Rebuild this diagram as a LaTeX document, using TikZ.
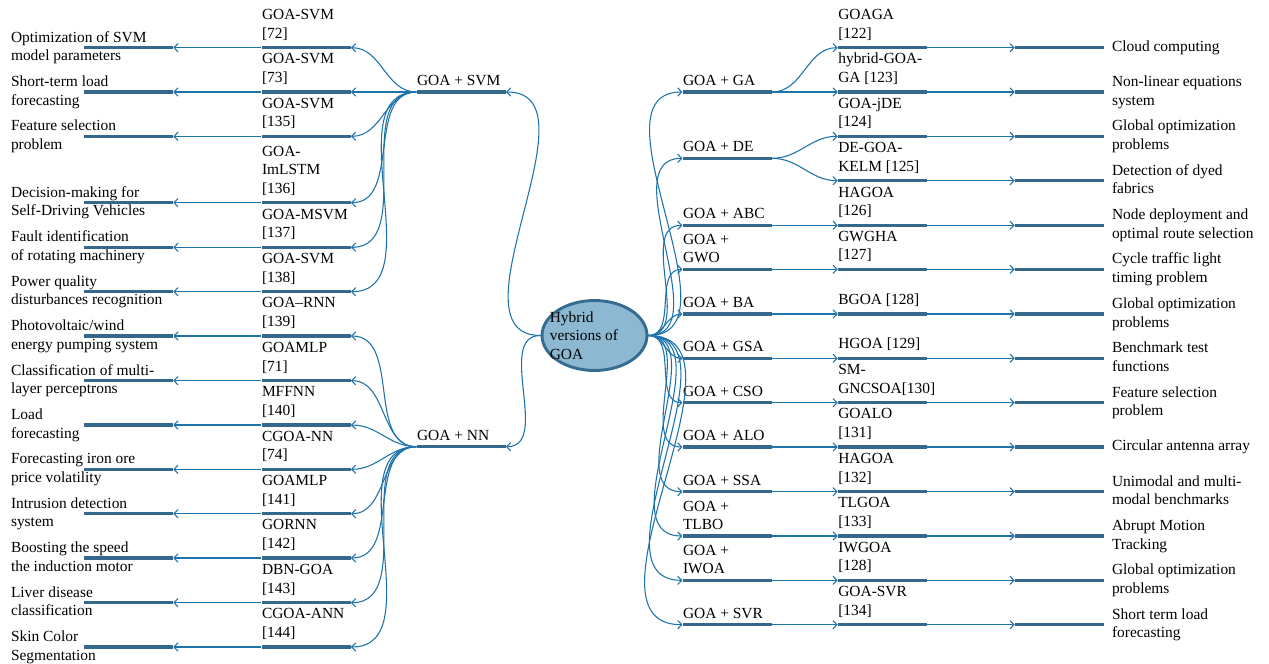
\documentclass[tikz,border=0pt]{standalone}
\usepackage{fontspec}
\setmainfont{Liberation Serif}
\usetikzlibrary{arrows.meta,shapes.geometric}
\definecolor{edgeblue}{RGB}{30,115,170}
\definecolor{barblue}{RGB}{52,105,140}
\definecolor{rootfill}{RGB}{140,185,209}
\definecolor{rootline}{RGB}{55,108,145}
\begin{document}
\begin{tikzpicture}[x=0.6477pt,y=-0.6477pt,
    conn/.style={draw=edgeblue,line width=0.7pt,-{Straight Barb[length=2.6pt,width=5.4pt]}},
    ubar/.style={fill=barblue,inner sep=0pt,minimum width=57.6pt,minimum height=2pt},
    lab/.style={inner sep=0pt,align=left,text depth=0pt},
    toplab/.style={lab,anchor=south west},
    sidelab/.style={lab,anchor=west},
    rootnode/.style={ellipse,draw=rootline,fill=rootfill,line width=1.9pt,
        minimum width=68pt,minimum height=45.3pt,inner sep=0pt}]
    \useasboundingbox (0,0) rectangle (1269,664);

    % centre
    \node[rootnode] (root) at (594.5,335.5) {};
    \node[sidelab] (root-t) at (549.5,335.5) {Hybrid\\versions of\\GOA};

    % left branches
    \node[ubar] (svm) at (461.2,92) {};
    \node[toplab] (svm-t) at (416.7,86) {GOA + SVM};
    \node[ubar] (nn) at (461.2,446.7) {};
    \node[toplab] (nn-t) at (416.7,440.7) {GOA + NN};
    \draw[conn] (root.west) to[out=180,in=0] (svm.east);
    \draw[conn] (root.west) to[out=180,in=0] (nn.east);

    \foreach \y/\mt/\lt [count=\i] in {
        47.7/{GOA-SVM\\{}[72]}/{Optimization of SVM\\model parameters},
        92/{GOA-SVM\\{}[73]}/{Short-term load\\forecasting},
        136.3/{GOA-SVM\\{}[135]}/{Feature selection\\problem},
        202.7/{GOA-\\ImLSTM\\{}[136]}/{Decision-making for\\Self-Driving Vehicles},
        247.3/{GOA-MSVM\\{}[137]}/{Fault identification\\of rotating machinery},
        291.7/{GOA-SVM\\{}[138]}/{Power quality\\disturbances recognition},
        336/{GOA–RNN\\{}[139]}/{Photovoltaic/wind\\energy pumping system},
        380.7/{GOAMLP\\{}[71]}/{Classification of multi-\\layer perceptrons},
        425/{MFFNN\\{}[140]}/{Load\\forecasting},
        469.3/{CGOA-NN\\{}[74]}/{Forecasting iron ore\\price volatility},
        513.7/{GOAMLP\\{}[141]}/{Intrusion detection\\system},
        558/{GORNN\\{}[142]}/{Boosting the speed\\the induction motor},
        602.7/{DBN-GOA\\{}[143]}/{Liver disease\\classification},
        647/{CGOA-ANN\\{}[144]}/{Skin Color\\Segmentation}}
    {
        \node[ubar] (lm\i) at (306.2,\y) {};
        \node[toplab] (lm\i-t) at (261.7,\y-9.2) {\mt};
        \node[ubar] (ll\i) at (128.5,\y) {};
        \node[sidelab] (ll\i-t) at (10.7,\y-1.5) {\lt};
        \draw[conn] (lm\i.west) -- (ll\i.east);
    }
    \foreach \i in {1,...,6}
        \draw[conn] (svm.west) to[out=180,in=0] (lm\i.east);
    \foreach \i in {7,...,14}
        \draw[conn] (nn.west) to[out=180,in=0] (lm\i.east);

    % right branches
    \foreach \y/\txt [count=\i] in {
        92/{GOA + GA}, 158.3/{GOA + DE}, 225.3/{GOA + ABC}, 269.3/{GOA +\\GWO},
        314/{GOA + BA}, 358.3/{GOA + GSA}, 402.7/{GOA + CSO}, 447/{GOA + ALO},
        491.7/{GOA + SSA}, 536/{GOA +\\TLBO}, 580.3/{GOA +\\IWOA}, 624.7/{GOA + SVR}}
    {
        \node[ubar] (rs\i) at (727.2,\y) {};
        \node[toplab] (rs\i-t) at (682.7,\y-6) {\txt};
        \draw[conn] (root.east) to[out=0,in=180] (rs\i.west);
    }

    \foreach \y/\p/\mt/\lt [count=\i] in {
        47.7/1/{GOAGA\\{}[122]}/{Cloud computing},
        92/1/{hybrid-GOA-\\GA [123]}/{Non-linear equations\\system},
        136.3/2/{GOA-jDE\\{}[124]}/{Global optimization\\problems},
        180.7/2/{DE-GOA-\\KELM [125]}/{Detection of dyed\\fabrics},
        225.3/3/{HAGOA\\{}[126]}/{Node deployment and\\optimal route selection},
        269.3/4/{GWGHA\\{}[127]}/{Cycle traffic light\\timing problem},
        314/5/{BGOA [128]}/{Global optimization\\problems},
        358.3/6/{HGOA [129]}/{Benchmark test\\functions},
        402.7/7/{SM-\\GNCSOA[130]}/{Feature selection\\problem},
        447/8/{GOALO\\{}[131]}/{Circular antenna array},
        491.7/9/{HAGOA\\{}[132]}/{Unimodal and multi-\\modal benchmarks},
        536/10/{TLGOA\\{}[133]}/{Abrupt Motion\\Tracking},
        580.3/11/{IWGOA\\{}[128]}/{Global optimization\\problems},
        624.7/12/{GOA-SVR\\{}[134]}/{Short term load\\forecasting}}
    {
        \node[ubar] (rm\i) at (882.5,\y) {};
        \node[toplab] (rm\i-t) at (838,\y-9.2) {\mt};
        \node[ubar] (rl\i) at (1059.5,\y) {};
        \node[sidelab] (rl\i-t) at (1111.7,\y-1.5) {\lt};
        \draw[conn] (rs\p.east) to[out=0,in=180] (rm\i.west);
        \draw[conn] (rm\i.east) -- (rl\i.west);
    }
\end{tikzpicture}
\end{document}
